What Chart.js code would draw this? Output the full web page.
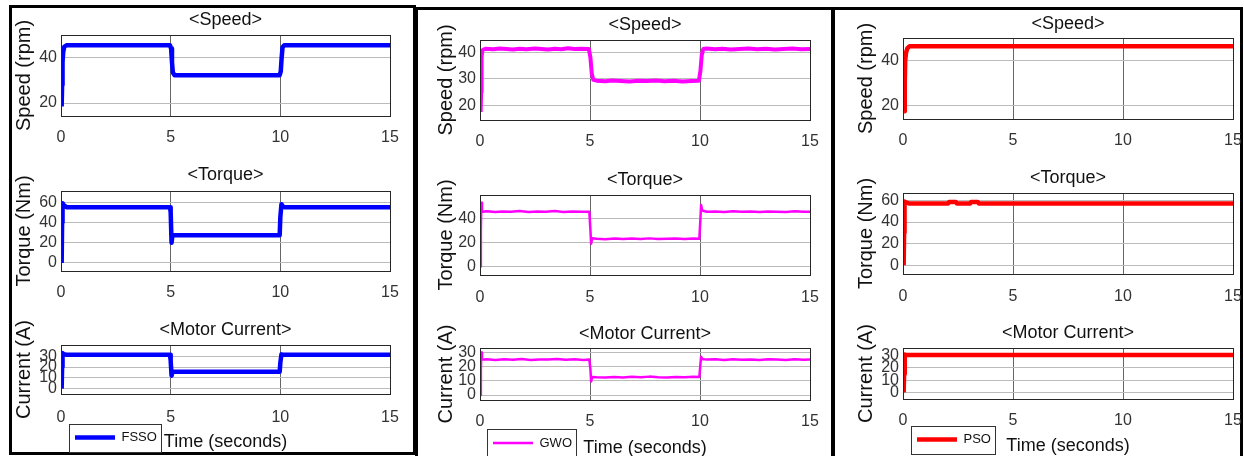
<!DOCTYPE html>
<html>
<head>
<meta charset="utf-8">
<script src="https://cdn.jsdelivr.net/npm/chart.js@4.4.1/dist/chart.umd.min.js"></script>
<style>
  body { margin: 0; width: 1244px; height: 456px; overflow: hidden; background: #fff; position: relative; }
  .frame { position: absolute; border: 3px solid #000; box-sizing: border-box; }
  canvas { position: absolute; }
</style>
</head>
<body>
<div class="frame" style="left:9px;top:5px;width:407px;height:450px"></div>
<div class="frame" style="left:415px;top:7px;width:419px;height:452px"></div>
<div class="frame" style="left:832px;top:7px;width:411px;height:452px"></div>

<script>
// tick labels
const timeTicks = [0, 5, 10, 15];
const speedTicksA = [20, 40];
const speedTicksB = [20, 30, 40];
const torqueTicksA = [0, 20, 40, 60];
const torqueTicksB = [0, 20, 40];
const currentTicks = [0, 10, 20, 30];

// FSSO
const fssoSpeedT = [0.03, 0.05, 0.07, 0.1, 0.15, 0.25, 4.97, 5.02, 5.06, 5.1, 5.18, 9.97, 10.02, 10.06, 10.1, 10.18, 15];
const fssoSpeed  = [18.5, 28, 38, 42.5, 44.8, 45.5, 45.5, 44, 38, 33.5, 32.3, 32.3, 34, 40, 44.5, 45.5, 45.5];
const fssoTorqueT = [0.03, 0.05, 0.07, 0.12, 0.25, 4.97, 5.0, 5.04, 5.08, 5.15, 9.97, 10.0, 10.05, 10.1, 10.2, 15];
const fssoTorque  = [0, 40, 59, 57, 55, 55, 50, 20, 27, 27.3, 27.3, 45, 58, 56, 55, 55];
const fssoCurrentT = [0.03, 0.05, 0.07, 0.12, 0.25, 4.97, 5.0, 5.04, 5.08, 5.15, 9.97, 10.0, 10.05, 10.1, 10.2, 15];
const fssoCurrent  = [0, 20, 33, 32, 31.5, 31.5, 26, 12, 15.5, 15.6, 15.6, 24, 31.8, 31.5, 31.5, 31.5];

// GWO
const gwoSpeedT = [0.03, 0.05, 0.07, 0.1, 0.15, 0.25, 0.6, 0.9, 1.2, 1.5, 1.8, 2.1, 2.5, 2.8, 3.1, 3.4, 3.7, 4.0, 4.3, 4.6, 4.95,
  5.02, 5.08, 5.15, 5.3, 5.7, 6.0, 6.4, 6.8, 7.2, 7.6, 8.0, 8.4, 8.8, 9.2, 9.6, 9.95,
  10.02, 10.08, 10.15, 10.3, 10.7, 11.0, 11.4, 11.8, 12.2, 12.6, 13.0, 13.4, 13.8, 14.2, 14.6, 15];
const gwoSpeed = [17.5, 25, 38, 40.5, 41.0, 41.3, 41.1, 41.4, 41.2, 41.0, 41.3, 41.1, 41.4, 41.2, 41.0, 41.3, 41.1, 41.5, 41.2, 41.3, 41.2,
  38, 32, 29.6, 29.3, 29.1, 29.4, 29.2, 29.0, 29.3, 29.2, 29.4, 29.1, 29.3, 29.0, 29.2, 29.3,
  33, 39, 41.2, 41.4, 41.1, 41.3, 41.0, 41.2, 41.4, 41.1, 41.3, 41.0, 41.2, 41.4, 41.1, 41.2];
const gwoTorqueT = [0.02, 0.04, 0.06, 0.09, 0.13, 0.3, 0.7, 1.0, 1.4, 1.8, 2.2, 2.6, 3.0, 3.4, 3.8, 4.2, 4.6, 4.97,
  5.02, 5.05, 5.1, 5.3, 5.7, 6.1, 6.5, 6.9, 7.3, 7.7, 8.1, 8.5, 8.9, 9.3, 9.7, 9.97,
  10.02, 10.05, 10.1, 10.3, 10.7, 11.1, 11.5, 11.9, 12.3, 12.7, 13.1, 13.5, 13.9, 14.3, 14.7, 15];
const gwoTorque = [0, 30, 53, 46, 45.5, 46, 45.2, 45.8, 45.4, 46.1, 45.3, 45.7, 45.5, 46.2, 45.3, 45.8, 45.4, 45.6,
  30, 19, 23.5, 23, 22.7, 23.3, 22.8, 23.2, 22.9, 23.4, 22.8, 23.1, 23.3, 22.9, 23.2, 23,
  40, 51, 46.5, 45.5, 45.8, 45.3, 45.9, 45.4, 45.7, 45.2, 45.8, 45.5, 45.3, 45.9, 45.4, 45.5];
const gwoCurrentT = [0.02, 0.04, 0.06, 0.09, 0.13, 0.3, 0.7, 1.1, 1.5, 1.9, 2.3, 2.7, 3.1, 3.5, 3.9, 4.3, 4.7, 4.97,
  5.02, 5.05, 5.1, 5.3, 5.7, 6.1, 6.5, 6.9, 7.3, 7.7, 8.1, 8.5, 8.9, 9.3, 9.7, 9.97,
  10.02, 10.05, 10.1, 10.3, 10.7, 11.1, 11.5, 11.9, 12.3, 12.7, 13.1, 13.5, 13.9, 14.3, 14.7, 15];
const gwoCurrent = [0, 18, 30, 25.5, 25, 25.3, 24.8, 25.2, 24.9, 25.4, 24.8, 25.1, 25, 25.5, 24.9, 25.2, 24.8, 25,
  18, 9.6, 12.8, 12.5, 12.3, 12.8, 12.4, 12.9, 12.5, 13.0, 12.6, 12.4, 12.8, 12.5, 12.9, 12.7,
  22, 27, 25.5, 25, 25.3, 24.8, 25.2, 24.9, 25.1, 24.7, 25.2, 25, 24.8, 25.3, 24.9, 25];

// PSO
const psoSpeedT = [0.05, 0.08, 0.1, 0.14, 0.2, 0.3, 15];
const psoSpeed  = [17.5, 30, 40, 43.5, 45.5, 46.3, 46.3];
const psoTorqueT = [0.03, 0.05, 0.07, 0.1, 0.3, 2.05, 2.1, 2.4, 2.45, 3.05, 3.1, 3.4, 3.45, 15];
const psoTorque  = [0, 30, 59, 58.5, 57, 57, 58.5, 58.5, 57, 57, 58.5, 58.5, 57, 57];
const psoCurrentT = [0.03, 0.05, 0.08, 0.12, 15];
const psoCurrent  = [0, 15, 31, 30.6, 30.6];

Chart.defaults.font.family = "'Liberation Sans', Arial, sans-serif";
Chart.defaults.color = '#262626';

const framePlugin = {
  id: 'frame',
  afterDatasetsDraw(chart) {
    const a = chart.chartArea, ctx = chart.ctx;
    ctx.save();
    ctx.strokeStyle = '#262626';
    ctx.lineWidth = 1;
    ctx.strokeRect(Math.round(a.left) + 0.5, Math.round(a.top) + 0.5, Math.round(a.right - a.left), Math.round(a.bottom - a.top));
    ctx.restore();
  }
};

// moves the legend next to the x axis title, like the matlab legend box
const legendPlacePlugin = {
  id: 'legendPlace',
  afterLayout(chart, args, opts) {
    const lg = chart.legend;
    if (!lg || !lg.options.display || opts.x == null) return;
    const pad = lg.options.labels.padding;
    lg.left = opts.x - pad;
    lg.top = opts.y - pad - 6.5;
    lg.right = lg.left + lg.width;
    lg.bottom = lg.top + lg.height;
  },
  afterDraw(chart) {
    const lg = chart.legend;
    if (!lg || !lg.options.display || !lg.legendHitBoxes || !lg.legendHitBoxes.length) return;
    const hb = lg.legendHitBoxes[0];
    const cy = hb.top + hb.height / 2;
    const ctx = chart.ctx;
    ctx.save();
    ctx.strokeStyle = '#333';
    ctx.lineWidth = 1;
    ctx.strokeRect(Math.round(hb.left - 6) + 0.5, Math.round(cy - 14) + 0.5, Math.round(hb.width + 10), 28);
    ctx.restore();
  }
};

function makePlot(p) {
  const x0 = Math.round(p.box[0]), y0 = Math.round(p.box[1]);
  const x1 = Math.round(p.box[2]), y1 = Math.round(p.box[3]);
  const left = x0 - 50;
  const top = Math.round(p.titleY - 12);
  const head = y0 - top;
  const xh = 34;
  const extra = p.legendY ? 30 : 0;
  const width = x1 - left + 14;
  const height = head + (y1 - y0) + xh + extra;

  const cv = document.createElement('canvas');
  cv.width = width;
  cv.height = height;
  cv.style.left = left + 'px';
  cv.style.top = top + 'px';
  document.body.appendChild(cv);

  const xTitlePad = p.legendY ? (y1 + xh) - 10.8 - p.timeY : 0;
  const legendPos = p.legendY ? { x: p.legendX - left, y: p.legendY - top } : {};

  new Chart(cv.getContext('2d'), {
    type: 'line',
    data: {
      datasets: [{
        label: p.name,
        data: p.t.map((x, i) => ({ x: x, y: p.v[i] })),
        borderColor: p.color,
        backgroundColor: p.color,
        borderWidth: p.lw,
        pointRadius: 0,
        tension: 0,
        fill: false,
        borderJoinStyle: 'round'
      }]
    },
    options: {
      responsive: false,
      animation: false,
      events: [],
      layout: { padding: { left: 0, right: 14, top: 0, bottom: extra } },
      scales: {
        x: {
          type: 'linear', min: 0, max: 15,
          afterBuildTicks: s => { s.ticks = timeTicks.map(v => ({ value: v })); },
          afterFit: s => { s.height = xh; s.paddingLeft = 0; s.paddingRight = 0; },
          grid: { color: '#666', drawTicks: false },
          border: { display: false },
          ticks: { padding: p.tickPad || 12, font: { size: 16 }, color: '#333', maxRotation: 0, autoSkip: false },
          title: {
            display: !!p.legendY, text: 'Time (seconds)', color: '#111',
            font: { size: 18 }, padding: { top: 0, bottom: xTitlePad }
          }
        },
        y: {
          min: p.yRange[0], max: p.yRange[1],
          afterBuildTicks: s => { s.ticks = p.yTicks.map(v => ({ value: v })); },
          afterFit: s => { s.width = 50; s.paddingTop = 0; s.paddingBottom = 0; },
          grid: { color: '#bbb', drawTicks: false },
          border: { display: false },
          ticks: { padding: 4, font: { size: 16 }, color: '#333', autoSkip: false },
          title: {
            display: true, text: p.yTitle, color: '#111',
            font: { size: 20 }, padding: { top: p.yTitleX - left - 12, bottom: 0 }
          }
        }
      },
      plugins: {
        title: {
          display: true, text: p.title, fullSize: false, color: '#111',
          font: { size: 18, weight: 'normal' },
          padding: { top: 1.2, bottom: head - 22.8 }
        },
        legend: {
          display: !!p.legendY, position: 'chartArea', align: 'start',
          labels: {
            usePointStyle: true, pointStyle: 'line', pointStyleWidth: 40,
            padding: 5, font: { size: 13 }, color: '#111'
          }
        },
        legendPlace: legendPos,
        tooltip: { enabled: false }
      }
    },
    plugins: [framePlugin, legendPlacePlugin]
  });
}

const blue = '#0000ff', magenta = '#ff00ff', red = '#ff0000';

// FSSO column
makePlot({ name: 'FSSO', color: blue, lw: 4.5, title: '<Speed>', yTitle: 'Speed (rpm)', yTitleX: 24.5,
  box: [61, 35, 390, 116], titleY: 19.5, yRange: [14.3, 50], yTicks: speedTicksA, t: fssoSpeedT, v: fssoSpeed });
makePlot({ name: 'FSSO', color: blue, lw: 4.5, title: '<Torque>', yTitle: 'Torque (Nm)', yTitleX: 24.5,
  box: [61, 191, 390, 271], titleY: 175, yRange: [-8, 71], yTicks: torqueTicksA, t: fssoTorqueT, v: fssoTorque });
makePlot({ name: 'FSSO', color: blue, lw: 4.5, title: '<Motor Current>', yTitle: 'Current (A)', yTitleX: 24.5,
  box: [61, 345, 390, 394], titleY: 330, yRange: [-5, 40.5], yTicks: currentTicks, t: fssoCurrentT, v: fssoCurrent,
  legendX: 75, legendY: 437.5, timeY: 442, tickPad: 14 });

// GWO column
makePlot({ name: 'GWO', color: magenta, lw: 4, title: '<Speed>', yTitle: 'Speed (rpm)', yTitleX: 446.7,
  box: [480, 39.5, 810, 120], titleY: 25, yRange: [14.5, 44.6], yTicks: speedTicksB, t: gwoSpeedT, v: gwoSpeed });
makePlot({ name: 'GWO', color: magenta, lw: 2.5, title: '<Torque>', yTitle: 'Torque (Nm)', yTitleX: 446.7,
  box: [480, 195, 810, 275], titleY: 179.5, yRange: [-7, 59.4], yTicks: torqueTicksB, t: gwoTorqueT, v: gwoTorque, tickPad: 13 });
makePlot({ name: 'GWO', color: magenta, lw: 2.5, title: '<Motor Current>', yTitle: 'Current (A)', yTitleX: 446.7,
  box: [480, 348, 810, 400], titleY: 334, yRange: [-3.5, 33.2], yTicks: currentTicks, t: gwoCurrentT, v: gwoCurrent,
  legendX: 493, legendY: 443, timeY: 448 });

// PSO column
makePlot({ name: 'PSO', color: red, lw: 4.5, title: '<Speed>', yTitle: 'Speed (rpm)', yTitleX: 866.7,
  box: [902.7, 38.3, 1232.7, 119], titleY: 24, yRange: [14, 50], yTicks: speedTicksA, t: psoSpeedT, v: psoSpeed });
makePlot({ name: 'PSO', color: red, lw: 4.5, title: '<Torque>', yTitle: 'Torque (Nm)', yTitleX: 866.7,
  box: [902.7, 193.3, 1232.7, 274.3], titleY: 178, yRange: [-8, 66.8], yTicks: torqueTicksA, t: psoTorqueT, v: psoTorque, tickPad: 13 });
makePlot({ name: 'PSO', color: red, lw: 4.5, title: '<Motor Current>', yTitle: 'Current (A)', yTitleX: 866.7,
  box: [902.7, 347.5, 1232.7, 399], titleY: 333, yRange: [-5.4, 36.3], yTicks: currentTicks, t: psoCurrentT, v: psoCurrent,
  legendX: 917, legendY: 439.5, timeY: 446 });
</script>
</body>
</html>
